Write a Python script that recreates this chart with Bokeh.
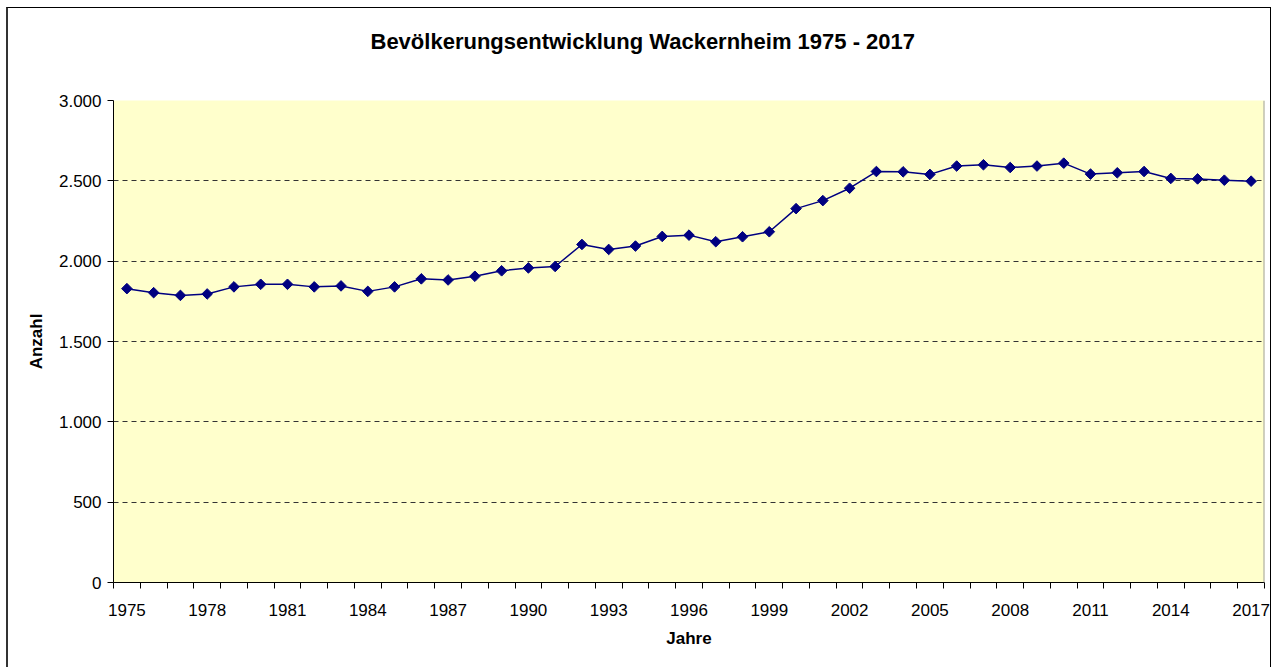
import math
from bokeh.plotting import figure
from bokeh.models import Range1d, FixedTicker, Span, Title, ColumnDataSource
from bokeh.embed import file_html
from bokeh.resources import INLINE

years = list(range(1975, 2018))
population = [1829, 1804, 1787, 1796, 1840, 1856, 1856, 1840, 1846, 1812,
              1840, 1890, 1883, 1906, 1940, 1958, 1967, 2104, 2073, 2094,
              2154, 2162, 2121, 2152, 2183, 2327, 2377, 2454, 2558, 2556,
              2540, 2592, 2600, 2583, 2592, 2610, 2542, 2550, 2558, 2515,
              2512, 2504, 2498]
y_ticks = [0, 500, 1000, 1500, 2000, 2500, 3000]
y_tick_labels = ["0", "500", "1.000", "1.500", "2.000", "2.500", "3.000"]
x_label_years = years[::3]

idx = list(range(len(years)))
src = ColumnDataSource(dict(x=idx, y=population))

FONT = "Liberation Sans"

p = figure(width=1265, height=660, output_backend="svg", toolbar_location=None,
           x_range=Range1d(-0.5, len(years) - 0.5), y_range=Range1d(0, 3000),
           min_border_left=105, min_border_right=9, min_border_top=0, min_border_bottom=86)
p.styles = {"margin-left": "6px", "margin-top": "7px",
            "border-left": "2px solid #333333", "border-top": "1px solid black",
            "border-right": "1px solid black"}

p.background_fill_color = "#FFFFCC"
p.border_fill_color = "white"
p.outline_line_color = None

# spacer between title and plot area (first added = closest to frame)
p.add_layout(Title(text=" ", text_font_size="26px"), "above")
t = Title(text="Bevölkerungsentwicklung Wackernheim 1975 - 2017", align="left",
          text_font=FONT, text_font_size="22px", text_font_style="bold",
          text_color="black", offset=257)
p.add_layout(t, "above")
p.add_layout(Title(text=" ", text_font_size="1px"), "above")

# x axis: labels at category centres every 3 years, ticks at category boundaries
xa = p.xaxis[0]
label_pos = [years.index(yv) for yv in x_label_years]
xa.ticker = FixedTicker(ticks=label_pos, minor_ticks=[i - 0.5 for i in range(len(years) + 1)])
xa.major_label_overrides = {i: str(years[i]) for i in label_pos}
xa.major_tick_out = 0
xa.major_tick_in = 0
xa.minor_tick_out = 6
xa.minor_tick_in = 0
xa.minor_tick_line_color = "black"
xa.axis_line_color = "black"
xa.major_label_text_font = FONT
xa.major_label_text_font_size = "17px"
xa.major_label_text_color = "black"
xa.major_label_standoff = 15
xa.axis_label = "Jahre"
xa.axis_label_text_font = FONT
xa.axis_label_text_font_size = "17px"
xa.axis_label_text_font_style = "bold"
xa.axis_label_text_color = "black"
xa.axis_label_standoff = 10

ya = p.yaxis[0]
ya.ticker = FixedTicker(ticks=y_ticks, minor_ticks=[])
ya.major_label_overrides = {v: l for v, l in zip(y_ticks, y_tick_labels)}
ya.major_tick_out = 6
ya.major_tick_in = 0
ya.major_tick_line_color = "black"
ya.axis_line_color = "black"
ya.major_label_text_font = FONT
ya.major_label_text_font_size = "17px"
ya.major_label_text_color = "black"
ya.major_label_standoff = 6
ya.axis_label = "Anzahl"
ya.axis_label_text_font = FONT
ya.axis_label_text_font_size = "17px"
ya.axis_label_text_font_style = "bold"
ya.axis_label_text_color = "black"
ya.axis_label_standoff = 10

p.xgrid.grid_line_color = None
p.ygrid.grid_line_color = "#333333"
p.ygrid.grid_line_dash = "5 4"
p.ygrid.grid_line_width = 1

p.add_layout(Span(location=len(years) - 0.5, dimension="height", line_color="#A0A0A0", line_width=2))

p.line("x", "y", source=src, line_color="#000080", line_width=1.5)
p.scatter("x", "y", source=src, marker="square", angle=math.pi / 4, size=7.5,
          fill_color="#000080", line_color="#000080")

open("out.html", "w").write(file_html(p, INLINE))
